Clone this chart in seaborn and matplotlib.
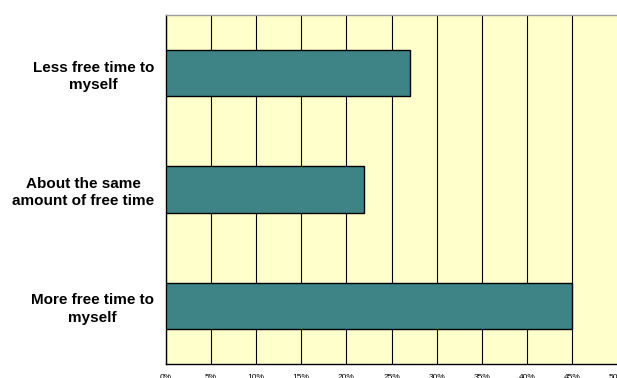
import matplotlib
matplotlib.use("Agg")
import matplotlib.pyplot as plt
import seaborn as sns
import pandas as pd
import numpy as np

categories = ["Less free time to\nmyself", "About the same\namount of free time", "More free time to\nmyself"]
values = [27, 22, 45]
xticks = [0, 5, 10, 15, 20, 25, 30, 35, 40, 45, 50]
xtick_labels = [f"{t}%" for t in xticks]

sns.set_theme(style="white")
plt.rcParams['font.family'] = ['Liberation Sans', 'DejaVu Sans']

df = pd.DataFrame({"cat": categories, "val": values})

fig = plt.figure(figsize=(6.17, 3.78), dpi=100)
ax = fig.add_axes([165.7 / 617, 14 / 378, (617.5 - 165.7) / 617, 349 / 378])
ax.set_facecolor("#FFFFCC")

sns.barplot(data=df, y="cat", x="val", orient="h", width=0.4, color="#3E8486",
            saturation=1, edgecolor="black", linewidth=1.0, ax=ax, zorder=3)

ax.set_xlim(0, 50)
ax.set_ylim(2.5, -0.5)
ax.set_xticks(xticks)
ax.set_xticklabels(xtick_labels, fontsize=6, color="black")
ax.tick_params(axis="x", direction="out", length=2, width=0.8, color="black", pad=5)
ax.xaxis.grid(True, color="black", linewidth=0.8, zorder=1)
ax.set_axisbelow(True)

ax.set_yticks([0, 1, 2])
ax.set_yticklabels(categories, fontsize=11, fontweight="bold", ha="right",
                   multialignment="center", color="black", linespacing=1.3)
ax.tick_params(axis="y", which="major", length=0, pad=8.4)
ax.set_yticks([-0.5, 0.5, 1.5, 2.5], minor=True)
ax.tick_params(axis="y", which="minor", direction="out", length=3.5, width=0.8, color="black")
ax.set_xlabel("")
ax.set_ylabel("")

for s in ["left", "bottom"]:
    ax.spines[s].set_color("black")
    ax.spines[s].set_linewidth(1.0)
    ax.spines[s].set_visible(True)
ax.spines["top"].set_color("#A0A0A0")
ax.spines["top"].set_linewidth(1.0)
ax.spines["right"].set_visible(False)

fig.savefig("out.png", dpi=100, facecolor="white")
